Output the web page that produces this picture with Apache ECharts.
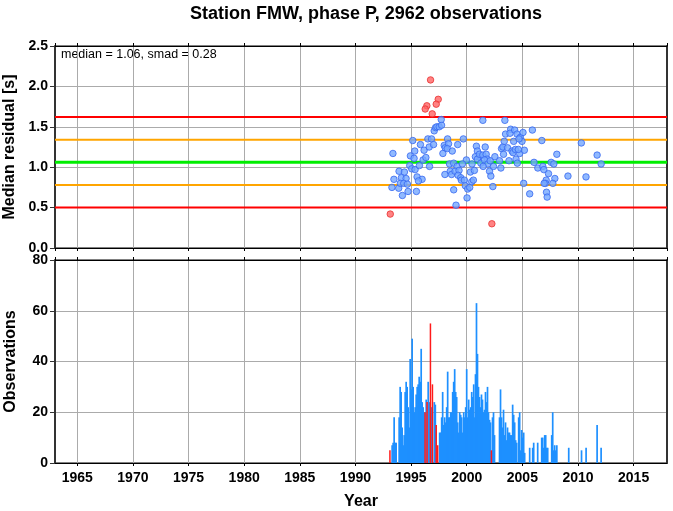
<!DOCTYPE html>
<html>
<head>
<meta charset="utf-8">
<script src="https://cdn.jsdelivr.net/npm/echarts@6/dist/echarts.min.js"></script>
<style>
html,body{margin:0;padding:0;background:#fff;}
#chart{width:673px;height:511px;}
</style>
</head>
<body>
<div id="chart"></div>
<script>
// ---- data ----
const titleText = 'Station FMW, phase P, 2962 observations';
const statsText = 'median = 1.06, smad = 0.28';
const xRange = [1963, 2018];
const residTicks = [0, 0.5, 1.0, 1.5, 2.0, 2.5];
const obsTicks = [0, 20, 40, 60, 80];

// reference levels: median, +-1 smad, +-2 smad
const levelValues = [0.50, 0.78, 1.06, 1.34, 1.62];
const levelColors = ['#ff0000', '#ffa500', '#00ee00', '#ffa500', '#ff0000'];
const levelWidths = [2, 2, 3, 2, 2];

// monthly median residuals (year, seconds) — within limits
const residualNormal = [
 [1993.37,1.17],[1993.46,0.85],[1993.28,0.75],[1993.92,0.95],[1994.40,0.94],[1994.22,0.65],
 [1993.89,0.74],[1994.73,0.70],[1995.48,0.70],[1994.13,0.87],[1994.55,0.86],[1994.04,0.80],
 [1994.34,0.80],[1994.67,0.79],[1994.94,1.14],[1995.27,1.11],[1995.33,1.20],[1994.88,1.02],
 [1995.06,0.98],[1995.36,0.97],[1995.75,1.02],[1995.54,0.88],[1995.99,0.85],[1995.66,0.83],
 [1995.15,1.33],[1995.84,1.28],[1996.17,1.21],[1996.08,1.09],[1996.33,1.12],[1996.66,1.01],
 [1996.51,1.35],[1996.84,1.35],[1996.63,1.25],[1997.02,1.28],[1997.08,1.45],[1997.20,1.49],
 [1997.32,1.50],[1997.53,1.50],[1997.74,1.52],[1997.71,1.59],[1997.86,1.17],[1997.98,1.27],
 [1998.07,1.24],[1998.28,1.35],[1998.37,1.29],[1998.25,1.23],[1998.70,1.20],[1999.19,1.28],
 [1999.70,1.35],[1998.46,1.04],[1998.83,1.05],[1999.13,1.01],[1998.04,0.91],[1998.52,0.95],
 [1998.64,0.91],[1998.95,0.95],[1999.31,0.96],[1999.22,0.90],[1999.46,0.87],[1999.52,0.84],
 [1999.79,0.84],[1999.88,0.77],[2000.09,0.73],[2000.03,0.62],[2000.27,0.75],[2000.45,0.82],
 [2000.60,0.84],[2000.33,0.94],[2000.69,0.96],[1999.97,1.09],[1999.61,1.04],[1998.83,0.72],
 [1999.04,0.53],[2000.48,1.04],[2000.87,1.26],[2000.96,1.20],[2001.11,1.13],[2000.78,1.13],
 [2000.96,1.10],[2001.27,1.05],[2001.14,1.16],[2001.45,1.15],[2001.66,1.25],[2001.75,1.16],
 [2001.84,1.10],[2001.60,1.09],[2001.90,1.04],[2001.48,1.01],[2002.11,1.08],[2002.05,0.95],
 [2002.17,0.89],[2002.41,1.01],[2002.53,1.13],[2002.35,0.76],[2003.07,0.99],[2002.95,1.08],
 [2001.45,1.58],[2003.43,1.58],[2003.13,1.23],[2003.25,1.25],[2003.31,1.16],[2003.37,1.32],
 [2003.49,1.41],[2003.67,1.24],[2003.80,1.08],[2003.95,1.47],[2003.89,1.42],[2004.07,1.20],
 [2004.16,1.18],[2004.22,1.32],[2004.31,1.46],[2004.52,1.41],[2004.43,1.10],[2004.55,1.05],
 [2004.76,1.17],[2004.82,1.37],[2004.97,1.32],[2005.06,1.43],[2005.18,1.21],[2004.37,1.22],
 [2004.64,1.22],[2004.70,1.35],[2005.90,1.46],[2006.75,1.33],[2005.12,0.80],[2005.66,0.67],
 [2006.05,1.06],[2006.39,0.99],[2006.84,1.01],[2006.93,0.97],[2007.35,0.92],[2007.59,1.06],
 [2007.83,1.04],[2008.10,1.16],[2007.14,0.84],[2007.08,0.80],[2006.96,0.80],[2007.92,0.86],
 [2007.74,0.80],[2007.17,0.69],[2007.23,0.63],[2009.10,0.89],[2010.30,1.30],[2010.72,0.88],
 [2011.72,1.15],[2012.08,1.04]
];
// monthly median residuals outside the 2-smad limits
const residualOutlier = [
 [1996.75,2.08],[1997.44,1.84],[1997.26,1.78],[1996.42,1.76],[1996.27,1.72],[1996.90,1.66],
 [1993.13,0.42],[2002.26,0.30]
];

// monthly observation counts
const obsYears = [
 1993.29,1993.38,1993.47,1993.56,1993.65,1993.92,1994.01,1994.10,1994.19,1994.28,1994.37,1994.46,
 1994.55,1994.64,1994.73,1994.82,1994.91,1995.00,1995.09,1995.18,1995.27,1995.36,1995.45,1995.54,
 1995.63,1995.72,1995.81,1995.90,1995.99,1996.08,1996.17,1996.35,1996.53,1996.62,1996.83,1997.08,
 1997.17,1997.56,1997.65,1997.74,1997.83,1997.92,1998.01,1998.10,1998.19,1998.28,1998.37,1998.46,
 1998.55,1998.64,1998.73,1998.82,1998.91,1999.00,1999.09,1999.18,1999.27,1999.36,1999.45,1999.54,
 1999.63,1999.72,1999.81,1999.90,1999.99,2000.08,2000.17,2000.26,2000.35,2000.44,2000.53,2000.62,
 2000.69,2000.78,2000.87,2000.96,2001.05,2001.14,2001.23,2001.32,2001.41,2001.50,2001.59,2001.68,
 2001.77,2001.86,2001.95,2002.04,2002.13,2002.31,2002.40,2002.49,2002.94,2003.03,2003.12,2003.21,
 2003.30,2003.39,2003.48,2003.57,2003.66,2003.75,2003.84,2003.93,2004.02,2004.12,2004.21,2004.30,
 2004.39,2004.48,2004.66,2004.75,2004.84,2004.93,2005.02,2005.11,2005.20,2005.65,2005.92,2006.01,
 2006.37,2006.73,2006.82,2006.91,2007.00,2007.09,2007.18,2007.27,2007.63,2007.72,2007.81,2007.90,
 2008.00,2008.09,2009.16,2010.31,2010.72,2011.71,2012.07
];
const obsCounts = [
 7,8,18,8,8,18,30,28,14,7,11,28,
 32,30,22,14,41,29,49,30,20,22,27,30,
 31,34,32,45,24,22,20,25,32,24,22,24,
 23,12,12,18,28,15,18,16,22,36,18,18,
 20,20,28,32,37,28,26,16,12,20,19,18,
 12,20,18,22,37,18,25,21,22,28,26,31,
 18,35,63,43,30,26,22,27,25,20,21,28,
 24,30,20,17,16,18,20,11,18,29,18,14,
 21,11,16,9,14,12,12,11,11,23,19,16,
 9,8,18,20,5,13,10,12,4,6,6,8,
 8,10,10,6,11,11,6,6,11,20,5,7,
 5,7,6,5,6,15,6
];
// months whose median residual is an outlier
const outlierYears = [1993.10,1996.26,1996.44,1996.74,1996.92,1997.26,1997.39,2002.22];
const outlierCounts = [5,20,24,55,31,15,7,5];

// ---- chart ----
const FONT = '"Liberation Sans", Arial, Helvetica, sans-serif';
const chart = echarts.init(document.getElementById('chart'), null, {renderer: 'canvas'});

const gridLine = {show: true, lineStyle: {color: '#ababab', width: 1}};
const labelStyle = {color: '#000', fontFamily: FONT, fontWeight: 'bold', fontSize: 14};
const nameStyle = {color: '#000', fontFamily: FONT, fontWeight: 'bold', fontSize: 16};

function xAxisDef(gridIndex, position, opts) {
  return Object.assign({
    type: 'value', gridIndex, position, min: xRange[0], max: xRange[1], splitNumber: 11,
    axisLine: {show: true, onZero: false, lineStyle: {color: '#000', width: 1}},
    axisTick: {show: true, length: 3, lineStyle: {color: '#000', width: 1}},
    axisLabel: {show: false},
    splitLine: {show: false}
  }, opts || {});
}
function yAxisDef(gridIndex, position, min, max, interval, opts) {
  return Object.assign({
    type: 'value', gridIndex, position, min, max, interval,
    axisLine: {show: true, onZero: false, lineStyle: {color: '#333', width: 2}},
    axisTick: {show: false},
    axisLabel: {show: false},
    splitLine: {show: false}
  }, opts || {});
}

const levelSeries = levelValues.map((v, i) => ({
  type: 'line', xAxisIndex: 0, yAxisIndex: 0, z: 2, silent: true,
  symbol: 'none', animation: false,
  lineStyle: {color: levelColors[i], width: levelWidths[i]},
  data: [[xRange[0], v], [xRange[1], v]]
}));

const gridBase = {left: 55, right: 6, show: true, borderColor: '#000', borderWidth: 1,
  backgroundColor: 'transparent', containLabel: false, outerBoundsMode: 'none'};

const option = {
  animation: false,
  backgroundColor: '#fff',
  title: {
    text: titleText, left: 361, top: 0, textAlign: 'center',
    textStyle: {fontFamily: FONT, fontWeight: 'bold', fontSize: 18, color: '#000'}
  },
  graphic: [{
    type: 'text', left: 61, top: 48,
    style: {text: statsText, font: '12.5px ' + FONT, fill: '#000'}
  }],
  grid: [
    Object.assign({top: 46, height: 202}, gridBase),
    Object.assign({top: 260, height: 203}, gridBase)
  ],
  xAxis: [
    xAxisDef(0, 'bottom', {splitLine: gridLine}),
    xAxisDef(0, 'top'),
    xAxisDef(1, 'top'),
    xAxisDef(1, 'bottom', {
      splitLine: gridLine,
      axisLabel: Object.assign({show: true, margin: 8, showMinLabel: false, showMaxLabel: false,
        formatter: v => (v % 5 === 0 ? String(v) : '')}, labelStyle),
      name: 'Year', nameLocation: 'middle', nameGap: 31, nameTextStyle: nameStyle
    })
  ],
  yAxis: [
    yAxisDef(0, 'left', residTicks[0], residTicks[residTicks.length - 1], 0.5, {
      axisTick: {show: true, length: 5, lineStyle: {color: '#333', width: 1}},
      axisLabel: Object.assign({show: true, margin: 7, formatter: v => v.toFixed(1)}, labelStyle),
      splitLine: gridLine,
      name: 'Median residual [s]', nameLocation: 'middle', nameGap: 36, nameTextStyle: nameStyle
    }),
    yAxisDef(0, 'right', residTicks[0], residTicks[residTicks.length - 1], 0.5),
    yAxisDef(1, 'left', obsTicks[0], obsTicks[obsTicks.length - 1], 20, {
      axisTick: {show: true, length: 5, lineStyle: {color: '#333', width: 1}},
      axisLabel: Object.assign({show: true, margin: 7}, labelStyle),
      splitLine: gridLine,
      name: 'Observations', nameLocation: 'middle', nameGap: 36, nameTextStyle: nameStyle
    }),
    yAxisDef(1, 'right', obsTicks[0], obsTicks[obsTicks.length - 1], 20)
  ],
  series: levelSeries.concat([
    {
      type: 'scatter', xAxisIndex: 0, yAxisIndex: 0, z: 5, symbol: 'circle', symbolSize: 6.5,
      itemStyle: {color: '#74a7ff', borderColor: '#3768f0', borderWidth: 1},
      data: residualNormal
    },
    {
      type: 'scatter', xAxisIndex: 0, yAxisIndex: 0, z: 5, symbol: 'circle', symbolSize: 6.5,
      itemStyle: {color: '#ff6464', borderColor: '#e83232', borderWidth: 1},
      data: residualOutlier
    },
    {
      type: 'bar', xAxisIndex: 3, yAxisIndex: 2, z: 3, barWidth: 1.7, barGap: '-100%',
      itemStyle: {color: '#1e90ff'},
      data: obsYears.map((y, i) => [y, obsCounts[i]])
    },
    {
      type: 'bar', xAxisIndex: 3, yAxisIndex: 2, z: 4, barWidth: 1.5, barGap: '-100%',
      itemStyle: {color: '#ff1a1a'},
      data: outlierYears.map((y, i) => [y, outlierCounts[i]])
    }
  ])
};
chart.setOption(option);
</script>
</body>
</html>
